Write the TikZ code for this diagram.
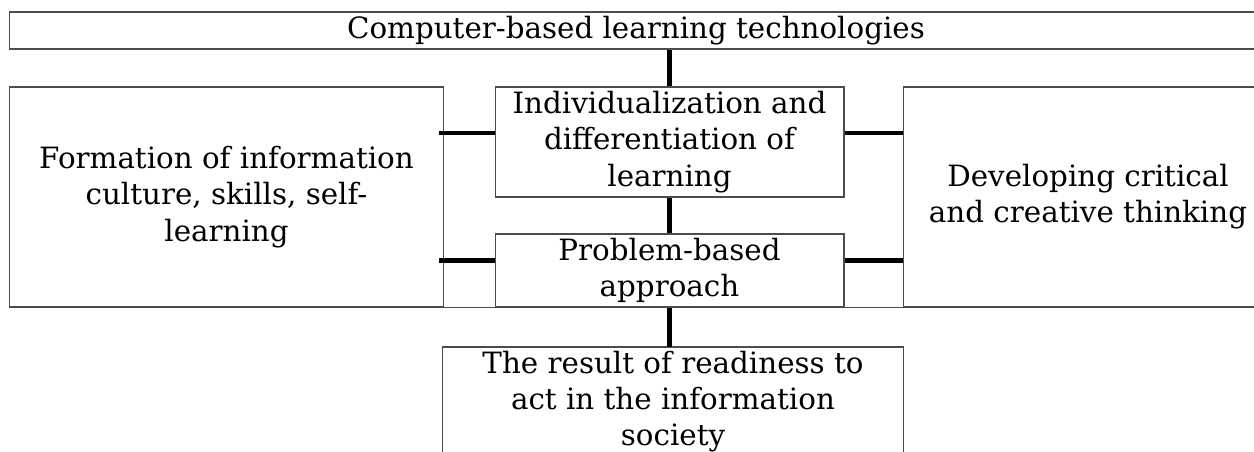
\documentclass[tikz,border=0pt]{standalone}
\usepackage{fontspec}
\setmainfont{DejaVu Serif}
\usetikzlibrary{calc}

\begin{document}
\begin{tikzpicture}[x=0.02cm,y=-0.02cm,
    frame/.style={draw=black!70,line width=0.6pt},
    box/.style={frame,inner sep=1pt,align=center,
      font=\fontsize{16.7}{20.6}\selectfont},
    link/.style={line width=2.4pt}]
    \useasboundingbox (0,0) rectangle (1254,452);

    \node[box,minimum width=25.08cm,minimum height=0.74cm] (tech) at (636,30.5) {Computer-based learning technologies};
    \node[box,minimum width=8.7cm,minimum height=4.4cm] (culture) at (226.5,197) {Formation of information\\culture, skills, self-\\learning};
    \node[box,minimum width=6.98cm,minimum height=2.2cm] (indiv) at (669.5,142) {Individualization and\\differentiation of\\learning};
    \node[box,minimum width=6.98cm,minimum height=1.46cm] (problem) at (669.5,270.5) {Problem-based\\approach};
    \node[box,minimum width=7.4cm,minimum height=4.4cm] (critical) at (1088,197) {Developing critical\\and creative thinking};
    \node[box,draw=none,minimum width=9.2cm,inner ysep=2pt,anchor=north] (result) at (673,347) {The result of readiness to\\act in the information\\society};
    % frame of the result box runs past the page bottom
    \draw[frame] ([yshift=-0.5cm]result.south west) rectangle (result.north east);

    \draw[frame] (culture.south west) -- (critical.south east);

    \draw[link]
    (indiv.north) -- (indiv.north |- tech.south)
    (indiv.south) -- (problem.north)
    ([yshift=0.18cm]indiv.west) -- ([xshift=-0.1cm,yshift=0.18cm]indiv.west -| culture.east)
    ([yshift=0.18cm]indiv.east) -- ([yshift=0.18cm]indiv.east -| critical.west)
    ([yshift=0.2cm]problem.west) -- ([xshift=-0.1cm,yshift=0.2cm]problem.west -| culture.east)
    ([yshift=0.2cm]problem.east) -- ([yshift=0.2cm]problem.east -| critical.west)
    (problem.south) -- (problem.south |- result.north);

\end{tikzpicture}
\end{document}
